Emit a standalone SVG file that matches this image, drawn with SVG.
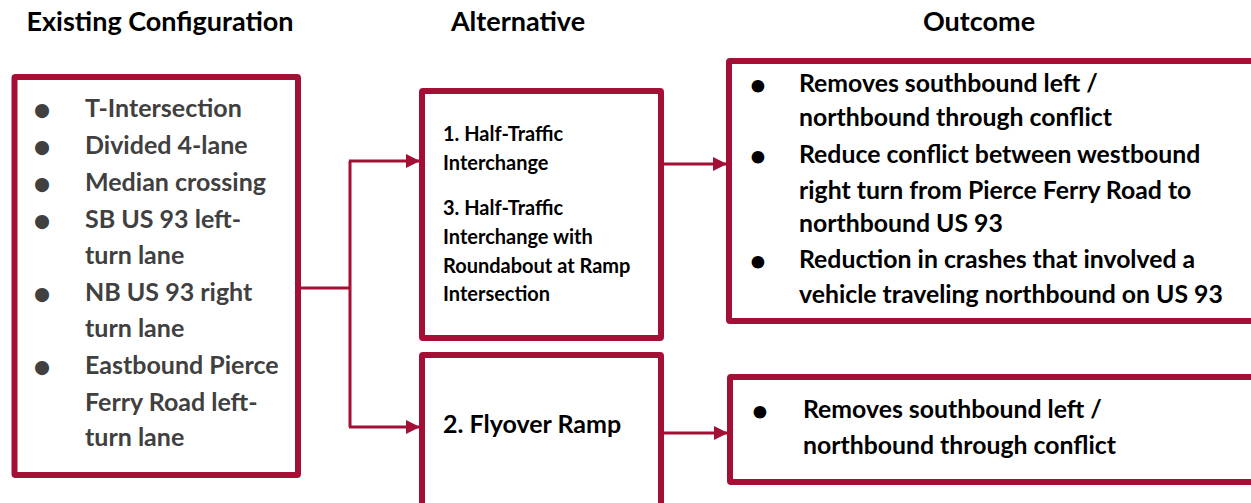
<svg xmlns="http://www.w3.org/2000/svg" width="1251" height="503" viewBox="0 0 1251 503">
<style>
.box{fill:#fff;stroke:#A30F35;stroke-width:6}
.con{fill:none;stroke:#A30F35;stroke-width:3}
.hdr{font-family:Lato,"Liberation Sans",sans-serif;font-weight:700;font-size:27px;fill:#000}
.grey{font-family:Lato,"Liberation Sans",sans-serif;font-weight:700;font-size:25px;fill:#404040}
.blk{font-family:Lato,"Liberation Sans",sans-serif;font-weight:700;fill:#000}
.s16{font-size:20px}
.s20{font-size:25px}
.s22{font-size:24.8px}
.bl{font-size:32px;text-anchor:middle}
.br{font-size:29px;text-anchor:middle}
</style>
<defs>
<marker id="arr" viewBox="0 0 14 14" refX="13" refY="7" markerWidth="14" markerHeight="14" markerUnits="userSpaceOnUse" orient="auto">
<path d="M0,0 L14,7 L0,14 Z" fill="#A30F35"/>
</marker>
</defs>
<rect width="1251" height="503" fill="#fff"/>
<g id="headers">
<text class="hdr" x="160" y="31" text-anchor="middle">Existing Configuration</text>
<text class="hdr" x="518" y="31" text-anchor="middle">Alternative</text>
<text class="hdr" x="979" y="31" text-anchor="middle">Outcome</text>
</g>
<g id="connectors">
<path class="con" d="M301,288 H350"/>
<path class="con" d="M350,161 V427"/>
<path class="con" d="M349,161 H419" marker-end="url(#arr)"/>
<path class="con" d="M349,427 H419" marker-end="url(#arr)"/>
<path class="con" d="M664,164 H726" marker-end="url(#arr)"/>
<path class="con" d="M664,433 H727" marker-end="url(#arr)"/>
</g>
<g id="existing">
<rect class="box" x="14.5" y="77" width="283.5" height="398" rx="1"/>
<g class="grey">
<text class="bl" x="42" y="121">•</text><text x="85" y="117">T-Intersection</text>
<text class="bl" x="42" y="158">•</text><text x="85" y="154">Divided 4-lane</text>
<text class="bl" x="42" y="195">•</text><text x="85" y="191">Median crossing</text>
<text class="bl" x="42" y="232">•</text><text x="85" y="228">SB US 93 left-</text>
<text x="85" y="264">turn lane</text>
<text class="bl" x="42" y="305">•</text><text x="85" y="301">NB US 93 right</text>
<text x="85" y="337">turn lane</text>
<text class="bl" x="42" y="378">•</text><text x="85" y="374">Eastbound Pierce</text>
<text x="85" y="411">Ferry Road left-</text>
<text x="85" y="446">turn lane</text>
</g>
</g>
<g id="alt-half-traffic">
<rect class="box" x="422" y="91" width="239" height="247" rx="1"/>
<g class="blk s16">
<text x="443" y="141">1. Half-Traffic</text>
<text x="443" y="170">Interchange</text>
<text x="443" y="215">3. Half-Traffic</text>
<text x="443" y="244">Interchange with</text>
<text x="443" y="273">Roundabout at Ramp</text>
<text x="443" y="301">Intersection</text>
</g>
</g>
<g id="alt-flyover">
<rect class="box" x="422" y="355" width="239" height="160" rx="1"/>
<text class="blk s20" x="443" y="433">2. Flyover Ramp</text>
</g>
<g id="outcome-1">
<rect class="box" x="729" y="61" width="540" height="260" rx="1"/>
<g class="blk s22">
<text class="br" x="758" y="95">•</text><text x="799" y="92">Removes southbound left /</text>
<text x="799" y="126">northbound through conflict</text>
<text class="br" x="758" y="166">•</text><text x="799" y="163">Reduce conflict between westbound</text>
<text x="799" y="199">right turn from Pierce Ferry Road to</text>
<text x="799" y="232">northbound US 93</text>
<text class="br" x="758" y="271">•</text><text x="799" y="268">Reduction in crashes that involved a</text>
<text x="799" y="303">vehicle traveling northbound on US 93</text>
</g>
</g>
<g id="outcome-2">
<rect class="box" x="730" y="377" width="540" height="105" rx="1"/>
<g class="blk s22">
<text class="br" x="760" y="421">•</text><text x="803" y="418">Removes southbound left /</text>
<text x="803" y="454">northbound through conflict</text>
</g>
</g>
</svg>
